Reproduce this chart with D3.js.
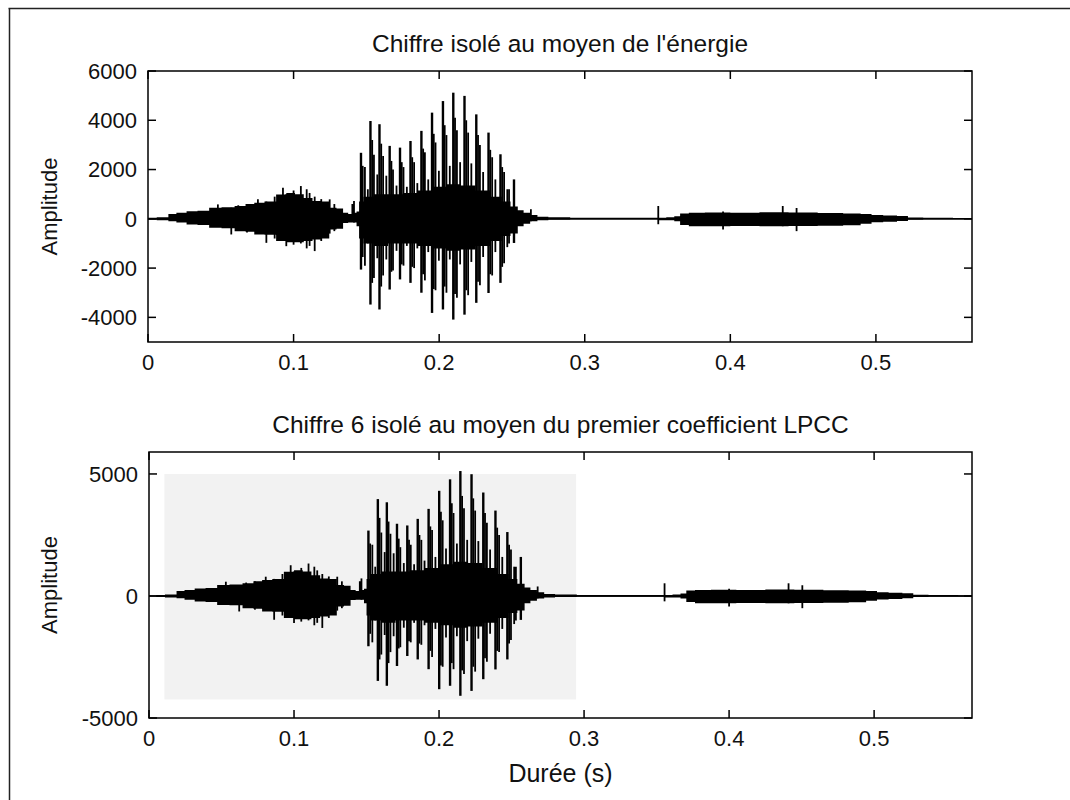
<!DOCTYPE html>
<html>
<head>
<meta charset="utf-8">
<script src="https://cdn.jsdelivr.net/npm/d3@7"></script>
<style>
  body { margin: 0; background: #fff; }
  text { font-family: "Liberation Sans", Arial, Helvetica, sans-serif; fill: #111; }
</style>
</head>
<body>
<svg id="fig"></svg>
<script>
// ---- data (time in s, amplitude) ----
// dense core of the waveform, upper / lower envelope
const envTime = [0, 0.012, 0.016, 0.023, 0.03, 0.038, 0.046, 0.055, 0.064, 0.07, 0.076, 0.084, 0.092, 0.098,
  0.104, 0.11, 0.116, 0.122, 0.127, 0.132, 0.136, 0.139, 0.1405, 0.1425, 0.144, 0.146, 0.15, 0.16, 0.17,
  0.18, 0.19, 0.2, 0.21, 0.22, 0.23, 0.24, 0.246, 0.252, 0.256, 0.26, 0.265, 0.27, 0.28, 0.3, 0.33, 0.349,
  0.352, 0.36, 0.363, 0.368, 0.375, 0.39, 0.41, 0.43, 0.45, 0.47, 0.485, 0.494, 0.5, 0.51, 0.519, 0.525,
  0.54, 0.566];
const envHigh = [40, 60, 200, 250, 310, 330, 450, 470, 520, 600, 650, 700, 990, 1050, 1000, 850, 720, 700,
  450, 420, 245, 200, 600, 250, 300, 700, 900, 1000, 1000, 1050, 1150, 1300, 1400, 1350, 1150, 900, 700,
  500, 350, 250, 150, 80, 60, 40, 40, 40, 40, 60, 100, 220, 250, 260, 250, 270, 260, 240, 220, 200, 150,
  130, 110, 50, 40, 30];
const envLow = [-40, -60, -95, -150, -230, -250, -365, -380, -500, -520, -635, -650, -900, -950, -950,
  -900, -840, -800, -430, -400, -165, -150, -150, -150, -300, -800, -1000, -1100, -1000, -1000, -1100,
  -1200, -1300, -1250, -1100, -900, -700, -600, -300, -200, -100, -60, -40, -30, -30, -30, -60, -60, -100,
  -250, -300, -300, -290, -300, -290, -280, -260, -200, -140, -120, -90, -40, -30, -30];

// glottal pulses of the voiced part: [time, peak, trough]
const pulses = [
  [0.1463, 2680, -2060], [0.1528, 3970, -3480], [0.1590, 3840, -3680], [0.1660, 2960, -2870],
  [0.1731, 2890, -2460], [0.1803, 3160, -2600], [0.1878, 3570, -3000], [0.1951, 4310, -3820],
  [0.2026, 4780, -3680], [0.2097, 5120, -4090], [0.2174, 4990, -3890], [0.2255, 4240, -3410],
  [0.2339, 3500, -3010], [0.2421, 2620, -2600], [0.2514, 1600, -980]
];
// decaying peaks inside each pitch period, plus isolated spikes elsewhere
const minorPeaks = [
  [0.1475, 2150, -1550], [0.1540, 3200, -2600], [0.1602, 3050, -2750], [0.1672, 2350, -2150],
  [0.1743, 2300, -1850], [0.1815, 2500, -1950], [0.1890, 2850, -2250], [0.1963, 3450, -2850],
  [0.2038, 3800, -2750], [0.2109, 4100, -3050], [0.2186, 4000, -2900], [0.2267, 3400, -2550],
  [0.2351, 2800, -2250], [0.2433, 2100, -1950],
  [0.1490, 2100, -1900], [0.1552, 2600, -2400], [0.1615, 2550, -2300], [0.1683, 2000, -2100],
  [0.1755, 2100, -1900], [0.1828, 2300, -2000], [0.1902, 2700, -2500], [0.1975, 3100, -2900],
  [0.2050, 3400, -3000], [0.2122, 3600, -3200], [0.2199, 3500, -3100], [0.2280, 3000, -2700],
  [0.2364, 2500, -2300], [0.2446, 1900, -1800], [0.2480, 1200, -1000],
  [0.1510, 1200, -1000], [0.1575, 1800, -1600], [0.1637, 1750, -1650], [0.1707, 1350, -1300],
  [0.1778, 1300, -1100], [0.1850, 1450, -1200], [0.1925, 1600, -1350], [0.1998, 1950, -1700],
  [0.2073, 2150, -1650], [0.2144, 2300, -1850], [0.2221, 2250, -1750], [0.2302, 1900, -1550],
  [0.2386, 1600, -1350], [0.2468, 1200, -1150],
  [0.048, 585, -300], [0.0572, 450, -635], [0.062, 550, -450], [0.068, 600, -560], [0.0755, 790, -500],
  [0.0813, 700, -975], [0.087, 900, -800], [0.0927, 1260, -900], [0.095, 1000, -1110], [0.1, 1150, -1050],
  [0.105, 1330, -1000], [0.109, 1200, -1200], [0.111, 1050, -1100], [0.1145, 900, -1310],
  [0.119, 800, -900], [0.1248, 790, -600], [0.128, 600, -500], [0.1415, 720, -150], [0.263, 390, -100],
  [0.3505, 520, -220], [0.395, 300, -430], [0.436, 520, -300], [0.4455, 440, -500]
];

const lpccShift = 0.005;            // lower panel segment starts a little later
const xTickValues = [0, 0.1, 0.2, 0.3, 0.4, 0.5];
const yTicksEnergy = [-4000, -2000, 0, 2000, 4000, 6000];
const yTicksLpcc = [-5000, 0, 5000];
const lpccSegment = {t0: 0.0106, t1: 0.2945, low: -4240, high: 5000};

const panels = [
  {title: "Chiffre isolé au moyen de l'énergie", left: 148, top: 71, right: 972, bottom: 342,
   xMax: 0.566, yDomain: [-5000, 6000], yTicks: yTicksEnergy, shift: 0, segment: null, xLabel: null},
  {title: "Chiffre 6 isolé au moyen du premier coefficient LPCC", left: 149, top: 452, right: 972, bottom: 718,
   xMax: 0.5675, yDomain: [-5000, 5900], yTicks: yTicksLpcc, shift: lpccShift, segment: lpccSegment,
   xLabel: "Durée (s)"}
];

const W = 1070, H = 800;
const svg = d3.select("#fig").attr("width", W).attr("height", H);

// scanned page border
svg.append("line").attr("x1", 8.5).attr("x2", 1070).attr("y1", 8.5).attr("y2", 8.5)
  .attr("stroke", "#222").attr("stroke-width", 1.5);
svg.append("line").attr("x1", 9.5).attr("x2", 9.5).attr("y1", 8.5).attr("y2", 800)
  .attr("stroke", "#222").attr("stroke-width", 1.5);

const envelope = envTime.map((t, i) => ({t: t, hi: envHigh[i], lo: envLow[i]}));

panels.forEach(p => {
  const width = p.right - p.left, height = p.bottom - p.top;
  const g = svg.append("g").attr("transform", "translate(" + p.left + "," + p.top + ")");

  const x = d3.scaleLinear().domain([0, p.xMax]).range([0, width]);
  const y = d3.scaleLinear().domain(p.yDomain).range([height, 0]);

  const clip = "clip" + p.left + p.top;
  g.append("clipPath").attr("id", clip).append("rect").attr("width", width).attr("height", height);

  if (p.segment) {
    g.append("rect")
      .attr("x", x(p.segment.t0)).attr("y", y(p.segment.high))
      .attr("width", x(p.segment.t1) - x(p.segment.t0))
      .attr("height", y(p.segment.low) - y(p.segment.high))
      .attr("fill", "#f2f2f2");
  }

  const wave = g.append("g").attr("clip-path", "url(#" + clip + ")");

  wave.append("line").attr("x1", 0).attr("x2", width).attr("y1", y(0)).attr("y2", y(0))
    .attr("stroke", "#000").attr("stroke-width", 1.5);

  const area = d3.area()
    .x(d => x(d.t + p.shift))
    .y0(d => y(d.lo))
    .y1(d => y(d.hi))
    .curve(d3.curveStep);
  wave.append("path").datum(envelope).attr("d", area).attr("fill", "#000");

  wave.selectAll("line.minor").data(minorPeaks).enter().append("line")
    .attr("class", "minor")
    .attr("x1", d => x(d[0] + p.shift)).attr("x2", d => x(d[0] + p.shift))
    .attr("y1", d => y(d[1])).attr("y2", d => y(d[2]))
    .attr("stroke", "#000").attr("stroke-width", 1.8);

  wave.selectAll("line.pulse").data(pulses).enter().append("line")
    .attr("class", "pulse")
    .attr("x1", d => x(d[0] + p.shift)).attr("x2", d => x(d[0] + p.shift))
    .attr("y1", d => y(d[1])).attr("y2", d => y(d[2]))
    .attr("stroke", "#000").attr("stroke-width", 2.4);

  // box with inward ticks on all four sides (matlab style)
  const tick = 8;
  const axes = g.append("g").attr("stroke", "#000").attr("stroke-width", 1.5);
  axes.append("rect").attr("width", width).attr("height", height).attr("fill", "none");
  xTickValues.forEach(v => {
    axes.append("line").attr("x1", x(v)).attr("x2", x(v)).attr("y1", height).attr("y2", height - tick);
    axes.append("line").attr("x1", x(v)).attr("x2", x(v)).attr("y1", 0).attr("y2", tick);
  });
  p.yTicks.forEach(v => {
    axes.append("line").attr("x1", 0).attr("x2", tick).attr("y1", y(v)).attr("y2", y(v));
    axes.append("line").attr("x1", width).attr("x2", width - tick).attr("y1", y(v)).attr("y2", y(v));
  });

  g.selectAll("text.xt").data(xTickValues).enter().append("text")
    .attr("class", "xt")
    .attr("x", d => x(d)).attr("y", height + 28)
    .attr("text-anchor", "middle").attr("font-size", 22)
    .text(d => d === 0 ? "0" : d3.format(".1f")(d));

  g.selectAll("text.yt").data(p.yTicks).enter().append("text")
    .attr("class", "yt")
    .attr("x", -11).attr("y", d => y(d)).attr("dy", "0.36em")
    .attr("text-anchor", "end").attr("font-size", 22)
    .text(d => d);

  g.append("text").attr("x", width / 2).attr("y", -19)
    .attr("text-anchor", "middle").attr("font-size", 24.5)
    .text(p.title);

  g.append("text")
    .attr("transform", "translate(" + (57 - p.left) + "," + (height / 2) + ") rotate(-90)")
    .attr("text-anchor", "middle").attr("font-size", 22)
    .text("Amplitude");

  if (p.xLabel) {
    g.append("text").attr("x", width / 2).attr("y", height + 64)
      .attr("text-anchor", "middle").attr("font-size", 25)
      .text(p.xLabel);
  }
});
</script>
</body>
</html>
